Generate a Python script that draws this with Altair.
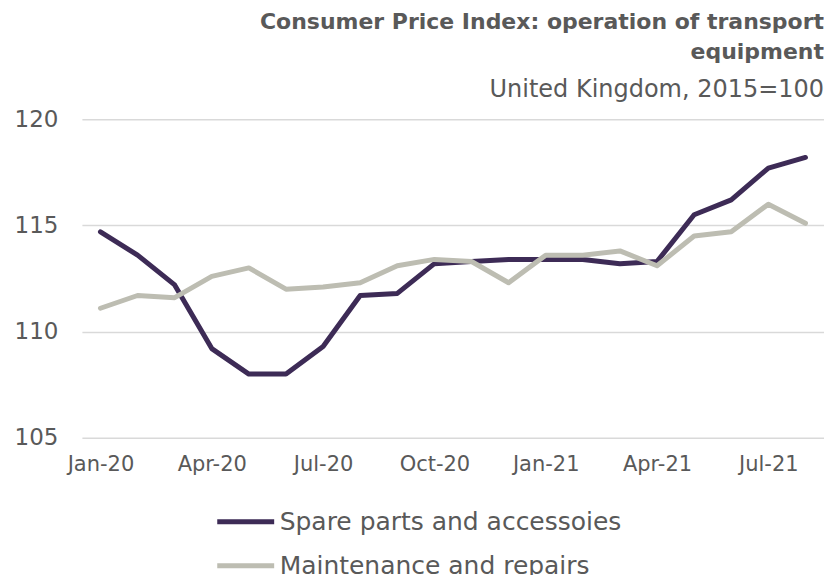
import altair as alt
import pandas as pd

months = ["Jan-20", "Feb-20", "Mar-20", "Apr-20", "May-20", "Jun-20", "Jul-20", "Aug-20",
          "Sep-20", "Oct-20", "Nov-20", "Dec-20", "Jan-21", "Feb-21", "Mar-21", "Apr-21",
          "May-21", "Jun-21", "Jul-21", "Aug-21"]
spare_parts = [114.7, 113.6, 112.2, 109.2, 108.0, 108.0, 109.3, 111.7, 111.8, 113.2,
               113.3, 113.4, 113.4, 113.4, 113.2, 113.3, 115.5, 116.2, 117.7, 118.2]
maintenance = [111.1, 111.7, 111.6, 112.6, 113.0, 112.0, 112.1, 112.3, 113.1, 113.4,
               113.3, 112.3, 113.6, 113.6, 113.8, 113.1, 114.5, 114.7, 116.0, 115.1]
series_names = ["Spare parts and accessoies", "Maintenance and repairs"]
series_colors = ["#3d2b56", "#bdbdb2"]
tick_months = ["Jan-20", "Apr-20", "Jul-20", "Oct-20", "Jan-21", "Apr-21", "Jul-21"]

rows = []
for i, m in enumerate(months):
    rows.append({"month": m, "series": series_names[0], "value": spare_parts[i], "order": 0})
    rows.append({"month": m, "series": series_names[1], "value": maintenance[i], "order": 1})
df = pd.DataFrame(rows)

FONT = "DejaVu Sans"
TEXT = "#595959"

chart = alt.Chart(df).mark_line(strokeWidth=5, strokeCap="round", strokeJoin="round").encode(
    x=alt.X("month:N", sort=months, scale=alt.Scale(paddingInner=0, paddingOuter=0.5),
            axis=alt.Axis(title=None, values=tick_months, labelAngle=0, ticks=False, domain=False,
                          labelFontSize=21, labelColor=TEXT, labelFont=FONT, labelPadding=16)),
    y=alt.Y("value:Q", scale=alt.Scale(domain=[105, 120], nice=False, zero=False),
            axis=alt.Axis(title=None, values=[105, 110, 115, 120], ticks=False, domain=False,
                          labelFontSize=23, labelColor=TEXT, labelFont=FONT, labelPadding=24,
                          gridColor="#d9d9d9", gridWidth=1.5)),
    color=alt.Color("series:N", sort=series_names,
                    scale=alt.Scale(domain=series_names, range=series_colors),
                    legend=alt.Legend(title=None, orient="none", legendX=133, legendY=372,
                                      direction="vertical", symbolType="stroke", symbolSize=3249,
                                      symbolStrokeWidth=5, labelFontSize=25, labelFont=FONT,
                                      labelColor=TEXT, rowPadding=0, labelOffset=3, labelLimit=0)),
    order=alt.Order("order:Q"),
).properties(
    width=743,
    height=319,
    padding={"left": 74, "top": 111, "right": 0, "bottom": 137},
    autosize=alt.AutoSizeParams(type="none"),
    title=alt.TitleParams(
        text=["Consumer Price Index: operation of transport", "equipment"],
        subtitle="United Kingdom, 2015=100",
        anchor="end", font=FONT, fontSize=22, fontWeight="bold", color=TEXT,
        subtitleFont=FONT, subtitleFontSize=24, subtitleColor=TEXT, lineHeight=30,
        subtitlePadding=14, offset=5,
    ),
).configure_view(stroke=None)

chart.save("out.html", embed_options={"renderer": "svg", "actions": False})
